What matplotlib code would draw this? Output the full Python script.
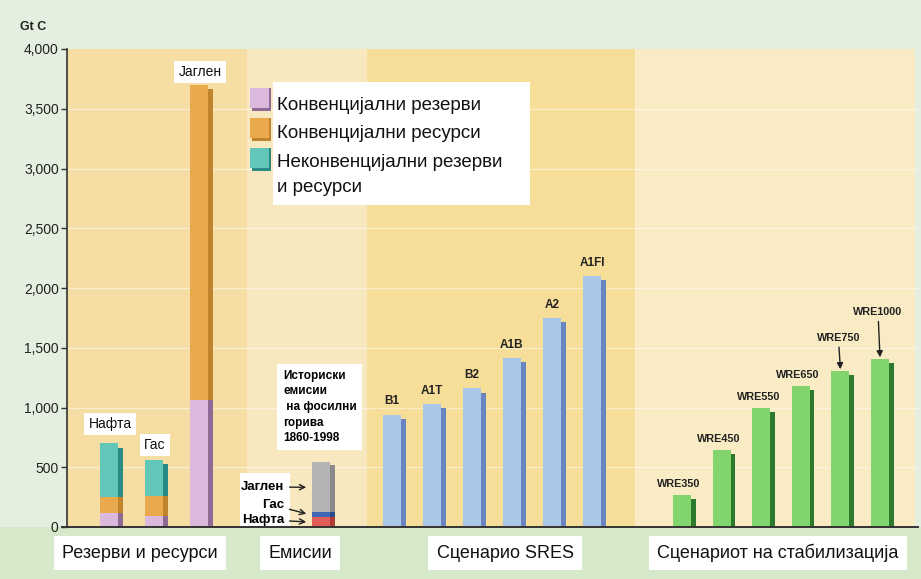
import numpy as np
import matplotlib.pyplot as plt
from matplotlib.patches import Rectangle
from matplotlib.ticker import FuncFormatter

# --- data (Gt C) ---
fuels = ['Нафта', 'Гас', 'Јаглен']
conv_reserves = [120, 90, 1065]
conv_resources = [135, 170, 2635]
unconv = [445, 300, 0]

hist_fuels = ['Нафта', 'Гас', 'Јаглен']
hist_emis = [85, 40, 415]
hist_title = 'Историски\nемисии\n на фосилни\nгорива\n1860-1998'

sres_names = ['B1', 'A1T', 'B2', 'A1B', 'A2', 'A1FI']
sres_vals = [940, 1030, 1160, 1415, 1750, 2100]

wre_names = ['WRE350', 'WRE450', 'WRE550', 'WRE650', 'WRE750', 'WRE1000']
wre_vals = [270, 645, 995, 1180, 1305, 1405]

legend_labels = ['Конвенцијални резерви', 'Конвенцијални ресурси',
                 'Неконвенцијални резерви\nи ресурси']
group_labels = ['Резерви и ресурси', 'Емисии', 'Сценарио SRES',
                'Сценариот на стабилизација']

SANS = ['Liberation Sans', 'DejaVu Sans']

c_res, s_res = '#dbb9dd', '#8f6a94'
c_rsc, s_rsc = '#e9a94c', '#c0842c'
c_unc, s_unc = '#62c6b9', '#2a8b84'
c_sres, s_sres = '#a9c8e8', '#6a86c0'
c_wre, s_wre = '#82d46c', '#2d7a2d'

W, WS = 18, 4.5   # bar width / shadow strip width (x units = px)

fig = plt.figure(figsize=(9.21, 5.79), dpi=100, facecolor='#e5efe0')
fig.patches.append(Rectangle((0, 0), 1, 52 / 579, transform=fig.transFigure,
                             fc='#d6e8ca', ec='none', zorder=-1))
ax = fig.add_axes([67 / 921, 52 / 579, 851 / 921, 478 / 579])
ax.set_xlim(0, 851)
ax.set_ylim(0, 4000)
ax.set_facecolor('#e5efe0')

# background panels
ax.axvspan(0, 180, color='#f6dda3', zorder=0, lw=0)
ax.axvspan(180, 300, color='#f8e8c0', zorder=0, lw=0)
ax.axvspan(300, 568, color='#f6de98', zorder=0, lw=0)
ax.axvspan(568, 848, color='#f9ebc4', zorder=0, lw=0)
for yv in range(500, 4000, 500):
    ax.axhline(yv, color='white', alpha=0.45, lw=1, zorder=0.5)


def shaded_bar(x, bottom, height, color, shade, top=True, drop=35):
    ax.bar(x, height, W, bottom, align='edge', color=color, lw=0, zorder=2)
    h = height - drop if top else height
    ax.bar(x + W, h, WS, bottom, align='edge', color=shade, lw=0, zorder=2)


# reserves and resources
x_res = 33 + 45 * np.arange(len(fuels))
b = np.zeros(len(fuels))
for vals, c, s in [(conv_reserves, c_res, s_res), (conv_resources, c_rsc, s_rsc),
                   (unconv, c_unc, s_unc)]:
    for i, v in enumerate(vals):
        if v > 0:
            is_top = (vals is unconv) or (i == 2 and vals is conv_resources)
            shaded_bar(x_res[i], b[i], v, c, s, top=is_top)
    b += np.array(vals)
label_dy = [160, 125, 105]
for i, name in enumerate(fuels):
    ax.text(x_res[i] + W / 2 + 1, b[i] + label_dy[i], name, ha='center', va='center',
            fontsize=10, family=SANS, color='#111',
            bbox=dict(fc='white', ec='none', pad=3), zorder=4)

# historic emissions
x_em = 245
hist_cols = [('#e25c5a', '#b23c3a'), ('#3f67b5', '#2a4a8a'), ('#b4b4b4', '#8a8a8a')]
eb = 0
for i, v in enumerate(hist_emis):
    shaded_bar(x_em, eb, v, hist_cols[i][0], hist_cols[i][1], top=(i == 2), drop=25)
    eb += v
ax.text(216, 1004, hist_title, ha='left', va='center', fontsize=8.5, weight='bold',
        family=SANS, linespacing=1.4,
        bbox=dict(fc='white', ec='none', pad=4), zorder=4)
ax.add_patch(Rectangle((173, 0), 50, 450, fc='white', ec='none', zorder=3))
em_mid = np.cumsum(hist_emis) - np.array(hist_emis) / 2
label_y = [60, 185, 335]
for i, name in enumerate(hist_fuels):
    ax.annotate(name, xy=(x_em - 3, em_mid[i]), xytext=(217, label_y[i]),
                ha='right', va='center', fontsize=9.5, family=SANS, weight='bold',
                arrowprops=dict(arrowstyle='->', color='#222', lw=1), zorder=4)

# SRES scenarios
x_sres = 316 + 40 * np.arange(len(sres_names))
for i, v in enumerate(sres_vals):
    shaded_bar(x_sres[i], 0, v, c_sres, s_sres)
    ax.text(x_sres[i] + W / 2, v + 60, sres_names[i], ha='center', va='bottom',
            fontsize=8.5, weight='bold', family=SANS, color='#222', zorder=4)

# WRE stabilisation scenarios
x_wre = 606 + 39.6 * np.arange(len(wre_names))
for i, v in enumerate(wre_vals):
    shaded_bar(x_wre[i], 0, v, c_wre, s_wre)
    if i < 4:
        ax.text(x_wre[i] + W / 2 - 3, v + 50, wre_names[i], ha='center', va='bottom',
                fontsize=7.8, weight='bold', family=SANS, color='#222', zorder=4)
    else:
        ax.annotate(wre_names[i], xy=(x_wre[i] + W / 2, v + 15),
                    xytext=(x_wre[i] + W / 2 - 2, v + (235 if i == 4 else 350)),
                    ha='center', va='bottom', fontsize=7.8, weight='bold',
                    family=SANS, color='#222', zorder=4,
                    arrowprops=dict(arrowstyle='-|>', color='#222', lw=1,
                                    mutation_scale=9, shrinkA=1, shrinkB=0))

# legend (drawn by hand, as in the original)
ax.add_patch(Rectangle((206, 2695), 257, 1030, fc='white', ec='none', zorder=3))
leg_cols = [(c_res, s_res), (c_rsc, s_rsc), (c_unc, s_unc)]
sq_top = [3674, 3423, 3172]
line_y = [[3531, None], [3297, None], [3054, 2845]]
for i, lab in enumerate(legend_labels):
    ax.add_patch(Rectangle((185, sq_top[i] - 190), 19, 190, fc=leg_cols[i][1],
                           ec='none', zorder=4))
    ax.add_patch(Rectangle((183, sq_top[i] - 170), 19, 170, fc=leg_cols[i][0],
                           ec='none', zorder=4))
    for line, yl in zip(lab.split('\n'), line_y[i]):
        ax.text(210, yl, line, ha='left', va='center', fontsize=13.5,
                family=SANS, color='#111', zorder=4)

# axes styling
for side in ['top', 'right', 'bottom']:
    ax.spines[side].set_visible(False)
ax.spines['left'].set_color('#333')
ax.spines['left'].set_linewidth(1.2)
ax.plot([-5, 851], [0, 0], color='#333', lw=1.4, clip_on=False, zorder=5)
ax.set_xticks([])
ax.set_yticks(np.arange(0, 4001, 500))
ax.yaxis.set_major_formatter(FuncFormatter(lambda v, p: f'{int(v):,}'))
ax.tick_params(axis='y', length=4, width=1, color='#333', labelsize=10, pad=2,
               labelcolor='#222')
for t in ax.get_yticklabels():
    t.set_family(SANS)

fig.text(20 / 921, 1 - 27 / 579, 'Gt C', fontsize=9, weight='bold', family=SANS,
         va='center', ha='left', color='#222')

group_x = [140, 300, 505, 778]
for gx, lab in zip(group_x, group_labels):
    fig.text(gx / 921, 1 - 553 / 579, lab, ha='center', va='center', fontsize=13,
             family=SANS, color='#111',
             bbox=dict(fc='white', ec='none', pad=6))

fig.savefig('out.png', dpi=100, facecolor=fig.get_facecolor())
